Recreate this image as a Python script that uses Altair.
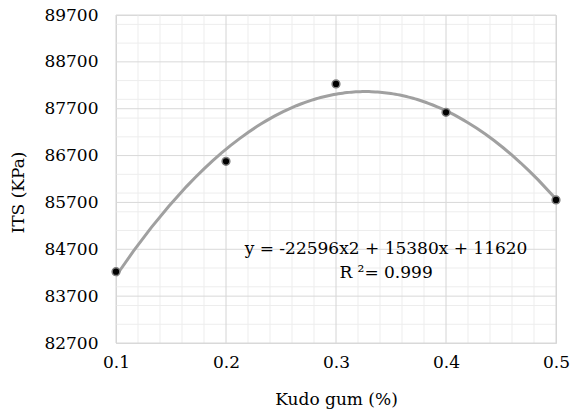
import altair as alt
import pandas as pd

# Indirect tensile strength against Kudo gum content
kudo_gum = [0.1, 0.2, 0.3, 0.4, 0.5]
its_kpa = [84222, 86578, 88228, 87623, 85752]

# Axis ticks and grid
x_major = [0.1, 0.2, 0.3, 0.4, 0.5]
x_minor = [0.12, 0.14, 0.16, 0.18, 0.22, 0.24, 0.26, 0.28, 0.32, 0.34, 0.36, 0.38,
           0.42, 0.44, 0.46, 0.48]
y_major = [82700, 83700, 84700, 85700, 86700, 87700, 88700, 89700]
y_minor = [83100, 83500, 83900, 84300, 85100, 85500, 85900, 86300, 87100, 87500,
           87900, 88300, 89100, 89500]

# Trendline annotation
eq_lines = ["y = -22596x2 + 15380x + 11620", "R \u00b2= 0.999"]
eq_x = [0.3455]
eq_y = [84700]

FONT = "DejaVu Serif"
FS = 17

x_scale = alt.Scale(domain=[0.1, 0.5], nice=False, zero=False)
y_scale = alt.Scale(domain=[82700, 89700], nice=False, zero=False)

data = pd.DataFrame({"x": kudo_gum, "y": its_kpa})

x_axis = alt.Axis(values=x_major, format=".1f", grid=False, ticks=False,
                  labelFlush=False, labelOverlap=False,
                  domainColor="#d9d9d9", labelPadding=11,
                  labelFont=FONT, labelFontSize=FS, labelColor="black",
                  title="Kudo gum (%)", titleFont=FONT, titleFontSize=FS,
                  titleFontWeight="normal", titleColor="black",
                  titleX=220, titleY=56, titleBaseline="middle")
y_axis = alt.Axis(values=y_major, format="d", grid=False, ticks=False,
                  labelFlush=False, labelOverlap=False,
                  domainColor="#d9d9d9", labelPadding=18,
                  labelFont=FONT, labelFontSize=FS, labelColor="black",
                  title="ITS (KPa)", titleFont=FONT, titleFontSize=FS,
                  titleFontWeight="normal", titleColor="black",
                  titleAngle=-90, titleX=-98, titleY=177,
                  titleAlign="center", titleBaseline="middle")

vminor = alt.Chart(pd.DataFrame({"v": x_minor})).mark_rule(
    color="#ededed", strokeWidth=1).encode(x=alt.X("v:Q", scale=x_scale))
hminor = alt.Chart(pd.DataFrame({"v": y_minor})).mark_rule(
    color="#ededed", strokeWidth=1).encode(y=alt.Y("v:Q", scale=y_scale))
vmajor = alt.Chart(pd.DataFrame({"v": x_major})).mark_rule(
    color="#d4d4d4", strokeWidth=1).encode(x=alt.X("v:Q", scale=x_scale))
hmajor = alt.Chart(pd.DataFrame({"v": y_major})).mark_rule(
    color="#d9d9d9", strokeWidth=1).encode(y=alt.Y("v:Q", scale=y_scale))

# second-order polynomial trendline
trend = alt.Chart(data).transform_regression(
    "x", "y", method="poly", order=2, extent=[0.1, 0.5]
).mark_line(color="#a0a0a0", strokeWidth=3).encode(
    x=alt.X("x:Q", scale=x_scale, axis=x_axis),
    y=alt.Y("y:Q", scale=y_scale, axis=y_axis),
)

points = alt.Chart(data).mark_point(
    filled=True, fill="black", stroke="#7f7f7f", strokeWidth=1.5,
    size=60, opacity=1, shape="circle"
).encode(
    x=alt.X("x:Q", scale=x_scale),
    y=alt.Y("y:Q", scale=y_scale),
)

label = alt.Chart(pd.DataFrame({"x": eq_x, "y": eq_y, "t": [eq_lines]})).mark_text(
    align="center", baseline="middle", lineHeight=24,
    font=FONT, fontSize=FS, color="black"
).encode(
    x=alt.X("x:Q", scale=x_scale),
    y=alt.Y("y:Q", scale=y_scale),
    text="t",
)

chart = alt.layer(vminor, hminor, vmajor, hmajor, trend, points, label).properties(
    width=440, height=328,
    autosize=alt.AutoSizeParams(type="none"),
    padding={"left": 116, "top": 15, "right": 15, "bottom": 70},
    background="white",
).configure(
    font=FONT
).configure_view(stroke="#d9d9d9", strokeWidth=1)

chart.save("out.html", embed_options={"renderer": "svg", "actions": False})
